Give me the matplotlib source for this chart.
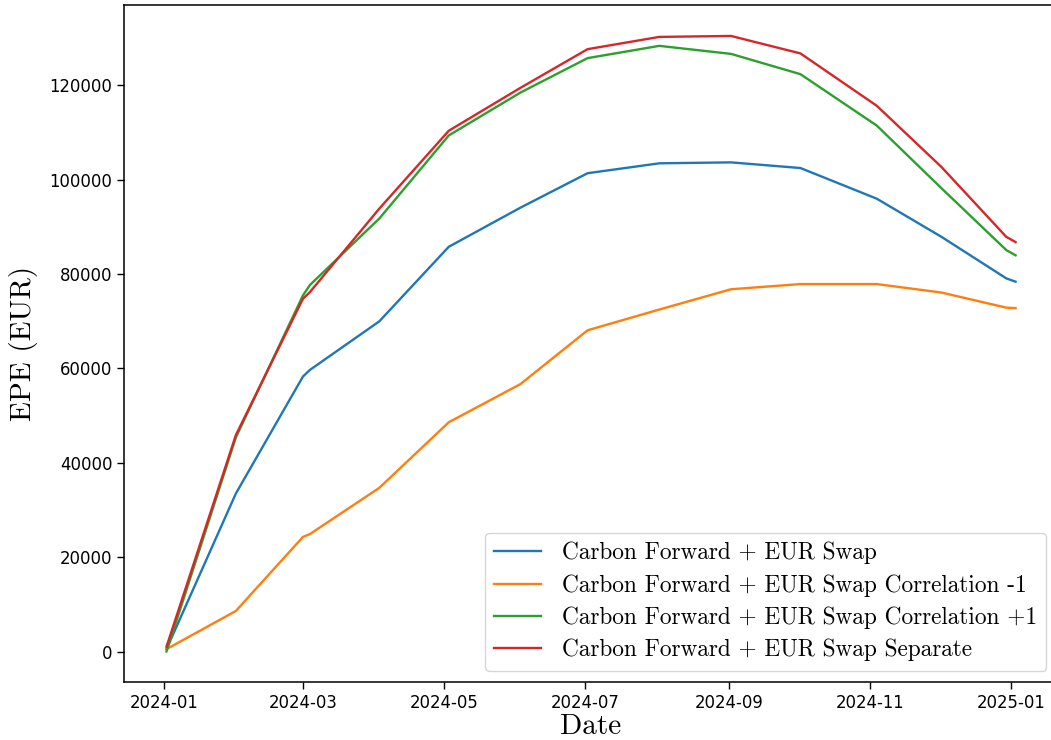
import pandas as pd
import matplotlib
matplotlib.use('Agg')
import matplotlib.pyplot as plt
import matplotlib.dates as mdates

# dates of the exposure profile
dates = pd.to_datetime(['2024-01-02', '2024-02-01', '2024-03-01', '2024-03-04', '2024-04-03',
                        '2024-05-03', '2024-06-03', '2024-07-02', '2024-08-02', '2024-09-02',
                        '2024-10-02', '2024-11-04', '2024-12-02', '2024-12-30', '2025-01-03'])

# EPE values per portfolio (EUR)
epe_base = [500, 33500, 58300, 59700, 70000, 85800, 94100, 101400, 103500, 103700,
            102500, 96000, 87900, 79100, 78400]
epe_corr_minus = [500, 8600, 24300, 24900, 34700, 48600, 56700, 68100, 72500, 76800,
                  77900, 77900, 76100, 72900, 72800]
epe_corr_plus = [0, 45400, 75500, 77700, 91800, 109400, 118500, 125800, 128400, 126700,
                 122400, 111500, 98200, 85100, 84000]
epe_separate = [1000, 45900, 74800, 76200, 93900, 110400, 119500, 127700, 130300, 130500,
                126800, 115700, 102700, 87900, 86800]

labels = ['Carbon Forward + EUR Swap',
          'Carbon Forward + EUR Swap Correlation -1',
          'Carbon Forward + EUR Swap Correlation +1',
          'Carbon Forward + EUR Swap Separate']

fig = plt.figure(figsize=(10.51, 7.40), dpi=100)
# right spine falls just outside the picture, as in the original crop
ax = fig.add_axes([0.118, 0.078, 0.8887, 0.915])

for values, label in zip([epe_base, epe_corr_minus, epe_corr_plus, epe_separate], labels):
    ax.plot(dates, values, label=label, linewidth=1.7)

ax.xaxis.set_major_locator(mdates.MonthLocator(bymonth=[1, 3, 5, 7, 9, 11]))
ax.xaxis.set_major_formatter(mdates.DateFormatter('%Y-%m'))
ax.tick_params(labelsize=11.9, length=5, width=1)
for s in ax.spines.values():
    s.set_linewidth(1.1)

ax.set_xlabel('Date', fontfamily='cmr10', fontsize=21, labelpad=1)
ax.set_ylabel('EPE (EUR)', fontfamily='cmr10', fontsize=21, labelpad=8)
ax.legend(loc='lower right', prop={'family': 'cmr10', 'size': 16.8},
          handletextpad=0.9, labelspacing=0.42)

fig.savefig('out.png', dpi=100)
